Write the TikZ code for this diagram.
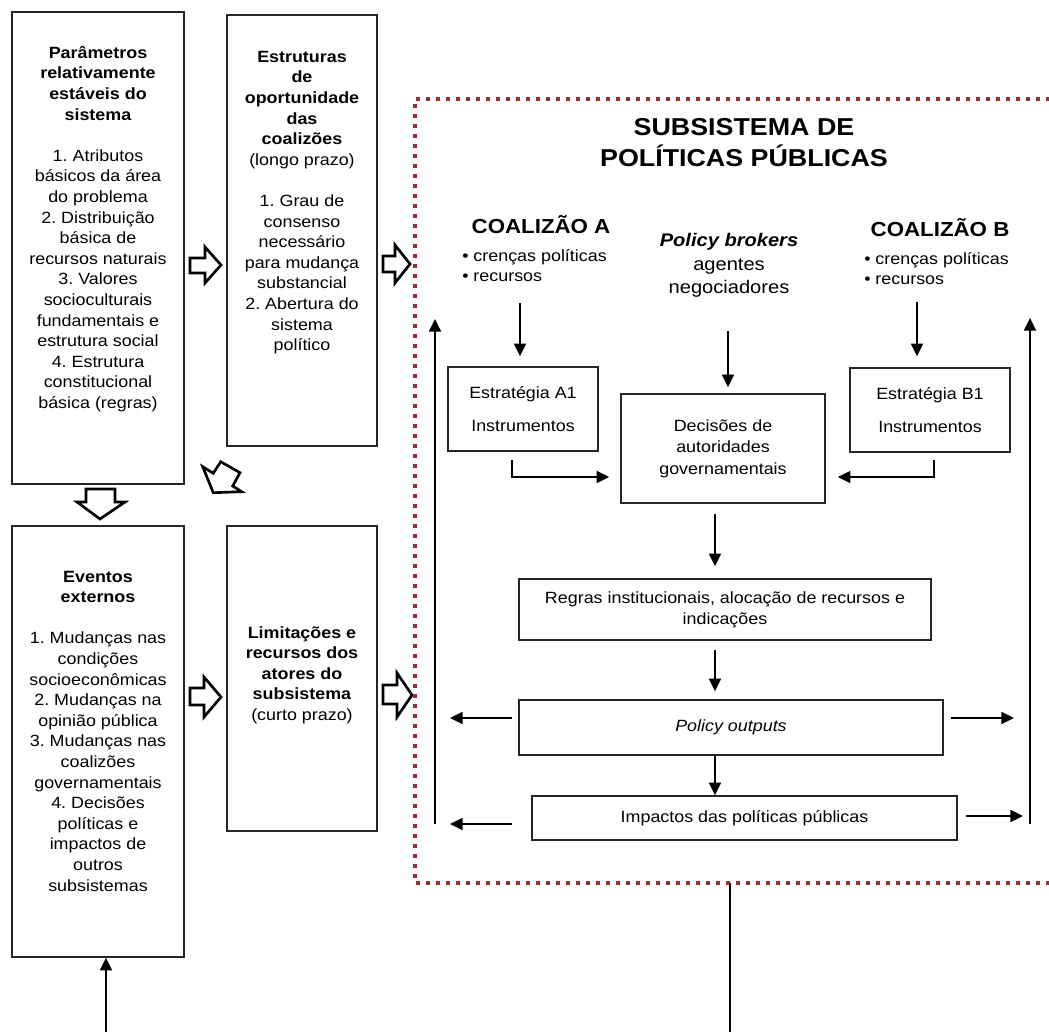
\documentclass[tikz,border=0pt]{standalone}
\usepackage{fontspec}
\setmainfont[FakeStretch=1.1]{Liberation Sans}
\usetikzlibrary{arrows.meta,calc}
\frenchspacing
\newcommand{\pxu}{*0.75pt}
\newcommand{\fbody}{\fontsize{12.2pt}{15.45pt}\selectfont}
\newcommand{\fbull}{\fontsize{12.2pt}{15pt}\selectfont}
\newcommand{\ftitle}{\fontsize{18.3pt}{23.3pt}\selectfont\bfseries}
\newcommand{\fcoal}{\fontsize{15.2pt}{18pt}\selectfont\bfseries}
\newcommand{\fbrok}{\fontsize{13.7pt}{17.8pt}\selectfont}
\definecolor{dotred}{RGB}{155,45,45}
\tikzset{
  box/.style={draw=black!85, line width=1.2pt, inner sep=0pt, align=center, font=\fbody},
  txt/.style={inner sep=0pt, align=center, font=\fbody},
  arr/.style={line width=1.3pt, -{Triangle[length=9.5pt,width=9pt]}},
  ln/.style={line width=1.3pt},
  blk/.style={draw=black, line width=2pt, line join=miter, fill=white},
  dotbox/.style={draw=dotred, line width=3pt, dash pattern=on 3pt off 4.5pt, line join=miter}
}
\begin{document}
\begin{tikzpicture}[x=0.75pt,y=-0.75pt]
\useasboundingbox (0,0) rectangle (1049,1032);
\clip (0,0) rectangle (1049,1032);

% left column boxes
\node[box, minimum width=172\pxu, minimum height=472\pxu] (par) at (98,248) {};
\node[txt] (partxt) at (98,229) {\textbf{Parâmetros}\\\textbf{relativamente}\\\textbf{estáveis do}\\\textbf{sistema}\\[15.45pt]1. Atributos\\básicos da área\\do problema\\2. Distribuição\\básica de\\recursos naturais\\3. Valores\\socioculturais\\fundamentais e\\estrutura social\\4. Estrutura\\constitucional\\básica (regras)};

\node[box, minimum width=150\pxu, minimum height=431\pxu] (est) at (302,230.5) {};
\node[txt] (esttxt) at (302,202.5) {\textbf{Estruturas}\\\textbf{de}\\\textbf{oportunidade}\\\textbf{das}\\\textbf{coalizões}\\(longo prazo)\\[15.45pt]1. Grau de\\consenso\\necessário\\para mudança\\substancial\\2. Abertura do\\sistema\\político};

\node[box, minimum width=172\pxu, minimum height=431\pxu] (ev) at (98,741.5) {};
\node[txt] (evtxt) at (98,731) {\textbf{Eventos}\\\textbf{externos}\\[15.45pt]1. Mudanças nas\\condições\\socioeconômicas\\2. Mudanças na\\opinião pública\\3. Mudanças nas\\coalizões\\governamentais\\4. Decisões\\políticas e\\impactos de\\outros\\subsistemas};

\node[box, minimum width=150\pxu, minimum height=305\pxu] (lim) at (302,678.5) {};
\node[txt] (limtxt) at (302,675) {\textbf{Limitações e}\\\textbf{recursos dos}\\\textbf{atores do}\\\textbf{subsistema}\\(curto prazo)};

% block arrows
\draw[blk] (190,258) -- (205,258) -- (205,247) -- (221,265) -- (205,283) -- (205,273) -- (190,273) -- cycle;
\draw[blk] (383,256) -- (395,256) -- (395,245) -- (410,264) -- (395,283) -- (395,272) -- (383,272) -- cycle;
\draw[blk] (190,688) -- (204,688) -- (204,677) -- (221,697) -- (204,717) -- (204,705) -- (190,705) -- cycle;
\draw[blk] (383,685) -- (397,685) -- (397,673) -- (412,695) -- (397,717) -- (397,704) -- (383,704) -- cycle;
\draw[blk] (86,489) -- (115,489) -- (115,502) -- (125,502) -- (100,519) -- (77,502) -- (86,502) -- cycle;
\draw[blk] (213.3,492.7) -- (241.7,491.7) -- (232.7,486) -- (240,472.7) -- (220.7,461.7) -- (213.3,473.3) -- (202.7,466.7) -- cycle;

% subsystem frame
\draw[dotbox] (1060,99) -- (415,99) -- (415,883) -- (1060,883);

\node[txt, font=\ftitle] (title) at (744,142.5) {SUBSISTEMA DE\\POLÍTICAS PÚBLICAS};
\node[txt, font=\fcoal] (coalA) at (541,225) {COALIZÃO A};
\node[txt, font=\fbull, align=left, anchor=west] (bulA) at (462,266) {• crenças políticas\\• recursos};
\node[txt, font=\fbrok] (brok) at (729,265.5) {\textbf{\textit{Policy brokers}}\\agentes\\negociadores};
\node[txt, font=\fcoal] (coalB) at (940,228) {COALIZÃO B};
\node[txt, font=\fbull, align=left, anchor=west] (bulB) at (864,269) {• crenças políticas\\• recursos};

\node[box, minimum width=150\pxu, minimum height=84\pxu, font=\fontsize{12.2pt}{24.75pt}\selectfont] (stA) at (523,409) {Estratégia A1\\Instrumentos};
\node[box, minimum width=160\pxu, minimum height=84\pxu, font=\fontsize{12.2pt}{24.75pt}\selectfont] (stB) at (930,410) {Estratégia B1\\Instrumentos};
\node[box, minimum width=204\pxu, minimum height=109\pxu, font=\fontsize{12.2pt}{16.1pt}\selectfont] (dec) at (723,448.5) {Decisões de\\autoridades\\governamentais};
\node[box, minimum width=412\pxu, minimum height=61\pxu, font=\fontsize{12.2pt}{15.75pt}\selectfont] (reg) at (725,609.5) {Regras institucionais, alocação de recursos e\\indicações};
\node[box, minimum width=424\pxu, minimum height=55\pxu] (out) at (731,727.5) {\textit{Policy outputs}};
\node[box, minimum width=425\pxu, minimum height=44\pxu] (imp) at (744.5,818) {Impactos das políticas públicas};

% connectors
\coordinate (aTop) at (520,303);
\coordinate (bkTop) at (728,331);
\coordinate (bTop) at (917,302);
\draw[arr, shorten >=10\pxu] (aTop) -- (aTop |- stA.north);
\draw[arr, shorten >=6\pxu] (bkTop) -- (bkTop |- dec.north);
\draw[arr, shorten >=11\pxu] (bTop) -- (bTop |- stB.north);

\coordinate (eA) at (512,460);
\coordinate (eAc) at (512,477);
\draw[arr, shorten >=11\pxu] (eA) -- (eAc) -- (eAc -| dec.west);
\coordinate (eB) at (934,460);
\coordinate (eBc) at (934,477);
\draw[arr, shorten >=12\pxu] (eB) -- (eBc) -- (eBc -| dec.east);

\coordinate (dr) at (715,0);
\draw[arr, shorten <=10\pxu, shorten >=12\pxu] (dec.south -| dr) -- (reg.north -| dr);
\draw[arr, shorten <=9\pxu, shorten >=8\pxu] (reg.south -| dr) -- (out.north -| dr);
\draw[arr] (out.south -| dr) -- (imp.north -| dr);

\coordinate (lo) at (450,718);
\coordinate (li) at (450,824);
\coordinate (ro) at (1014,718);
\coordinate (ri) at (1023,816);
\draw[arr, shorten <=6\pxu] (out.west |- lo) -- (lo);
\draw[arr, shorten <=19\pxu] (imp.west |- li) -- (li);
\draw[arr, shorten <=7\pxu] (out.east |- ro) -- (ro);
\draw[arr, shorten <=8\pxu] (imp.east |- ri) -- (ri);

\coordinate (fl1) at (435,824);
\coordinate (fl2) at (435,319);
\draw[arr] (fl1) -- (fl2);
\coordinate (fr1) at (1030,824);
\coordinate (fr2) at (1030,318);
\draw[arr] (fr1) -- (fr2);

\coordinate (bEv) at (106,1032);
\draw[arr] (bEv) -- (bEv |- ev.south);
\coordinate (sb1) at (730,883);
\coordinate (sb2) at (730,1032);
\draw[ln] (sb1) -- (sb2);
\end{tikzpicture}
\end{document}
